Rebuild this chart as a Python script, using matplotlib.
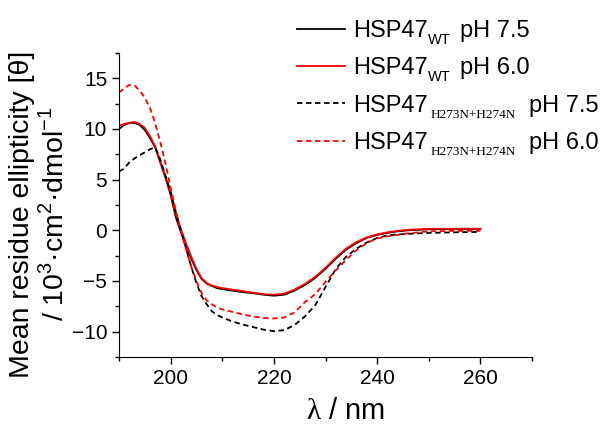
import numpy as np
import matplotlib.pyplot as plt
from matplotlib.ticker import MultipleLocator

plt.rcParams['font.family'] = ['Liberation Sans', 'DejaVu Sans']
plt.rcParams['mathtext.fontset'] = 'custom'
plt.rcParams['mathtext.rm'] = 'Liberation Sans'
plt.rcParams['mathtext.sf'] = 'Liberation Serif'

# длина волны, нм
wl = [190, 191, 192, 193, 194, 195, 196, 197, 198, 199, 200, 201, 202, 203, 204,
      205, 206, 207, 208, 209, 210, 212, 214, 216, 218, 220, 222, 224, 226, 228,
      230, 232, 234, 236, 238, 240, 242, 244, 246, 248, 250, 255, 260]

# HSP47 WT pH 7.5
wt_75 = [10.0, 10.4, 10.6, 10.6, 10.4, 9.9, 9.1, 8.2, 6.7, 5.2, 3.5, 1.3, -0.2, -1.5, -2.8,
         -3.9, -4.8, -5.25, -5.5, -5.7, -5.8, -5.95, -6.1, -6.2, -6.35, -6.45, -6.35, -5.95, -5.4, -4.7,
         -3.8, -2.8, -1.9, -1.25, -0.75, -0.45, -0.25, -0.1, 0.0, 0.05, 0.1, 0.15, 0.15]
# HSP47 WT pH 6.0
wt_60 = [10.3, 10.5, 10.6, 10.7, 10.5, 10.1, 9.3, 8.3, 6.8, 5.3, 3.7, 1.6, 0.1, -1.3, -2.6,
         -3.8, -4.7, -5.2, -5.45, -5.6, -5.7, -5.85, -6.0, -6.15, -6.3, -6.35, -6.25, -5.85, -5.3, -4.6,
         -3.7, -2.7, -1.8, -1.15, -0.7, -0.4, -0.2, -0.05, 0.05, 0.1, 0.15, 0.15, 0.15]
# HSP47 H273N+H274N pH 7.5
mut_75 = [5.8, 6.1, 6.7, 7.1, 7.4, 7.7, 8.0, 8.2, 7.0, 5.4, 3.8, 1.8, 0.0, -1.8, -3.6,
          -5.2, -6.5, -7.3, -8.0, -8.35, -8.6, -9.0, -9.3, -9.55, -9.8, -9.95, -9.85, -9.35, -8.5, -7.4,
          -5.6, -3.8, -2.6, -1.8, -1.2, -0.75, -0.5, -0.4, -0.35, -0.3, -0.25, -0.2, -0.15]
# HSP47 H273N+H274N pH 6.0
mut_60 = [13.6, 14.0, 14.35, 14.3, 13.8, 13.1, 12.1, 10.6, 8.7, 6.6, 4.2, 2.0, -0.1, -1.9, -3.6,
          -5.0, -6.2, -6.9, -7.3, -7.6, -7.8, -8.05, -8.3, -8.5, -8.65, -8.7, -8.6, -8.1, -7.1, -6.3,
          -5.1, -3.95, -2.9, -1.95, -1.25, -0.8, -0.6, -0.45, -0.3, -0.2, -0.1, -0.05, -0.05]

# подписи легенды: белок, индекс, pH
names = ['HSP47', 'HSP47', 'HSP47', 'HSP47']
subs = ['WT', 'WT', 'H273N+H274N', 'H273N+H274N']
ph = ['pH 7.5', 'pH 6.0', 'pH 7.5', 'pH 6.0']

fig = plt.figure(figsize=(6.05, 4.24), dpi=100)
ax = fig.add_axes([119/605, 1 - 357/424, (532-119)/605, (357-53)/424])

lw = 1.3
ax.plot(wl, wt_75, color='black', lw=lw)
ax.plot(wl, wt_60, color='red', lw=lw)
ax.plot(wl, mut_75, color='black', lw=lw, dashes=(3, 2))
ax.plot(wl, mut_60, color='red', lw=lw, dashes=(3, 2))

ax.set_xlim(190, 270)
ax.set_ylim(-12.5, 17.5)
ax.xaxis.set_minor_locator(MultipleLocator(10))
ax.yaxis.set_major_locator(MultipleLocator(5))
ax.yaxis.set_minor_locator(MultipleLocator(2.5))
ax.set_xticks([200, 220, 240, 260])
ax.spines['top'].set_visible(False)
ax.spines['right'].set_visible(False)
ax.tick_params(which='major', length=5, width=1, labelsize=15, direction='out')
ax.tick_params(which='minor', length=3, width=1, direction='out')

ax.set_xlabel(r'$\mathsf{λ}$ / nm', fontsize=21)
ax.xaxis.set_label_coords((345-119)/413, -0.13)
ax.set_ylabel('Mean residue ellipticity [θ]\n/ 10$^3$·cm$^2$·dmol$^{-1}$',
              fontsize=20.5, linespacing=1.2)
ax.yaxis.set_label_coords(-0.12, 0.47)

leg = fig.legend(ax.get_lines(), names, loc='upper left',
                 bbox_to_anchor=(297/605, 1 - 20/424), frameon=False,
                 fontsize=17, handlelength=2.03, handletextpad=0.34, labelspacing=0.65,
                 borderpad=0, borderaxespad=0)

# индексы и pH дописываем рядом с текстом легенды
fig.canvas.draw()
for t, s, p in zip(leg.get_texts(), subs, ph):
    if s == 'WT':
        ax.annotate(s, xy=(1, 0), xycoords=t, xytext=(0.5, -3.3), textcoords='offset points',
                    fontsize=10.5, va='bottom', ha='left', annotation_clip=False)
        ax.annotate(p, xy=(1, 0), xycoords=t, xytext=(23, 0), textcoords='offset points',
                    fontsize=17, va='bottom', ha='left', annotation_clip=False)
    else:
        ax.annotate(s, xy=(1, 0), xycoords=t, xytext=(2, -3.0), textcoords='offset points',
                    fontsize=9.5, family='Liberation Serif', va='bottom', ha='left',
                    annotation_clip=False)
        ax.annotate(p, xy=(1, 0), xycoords=t, xytext=(73, 0), textcoords='offset points',
                    fontsize=17, va='bottom', ha='left', annotation_clip=False)

plt.savefig('out.png', dpi=100)
